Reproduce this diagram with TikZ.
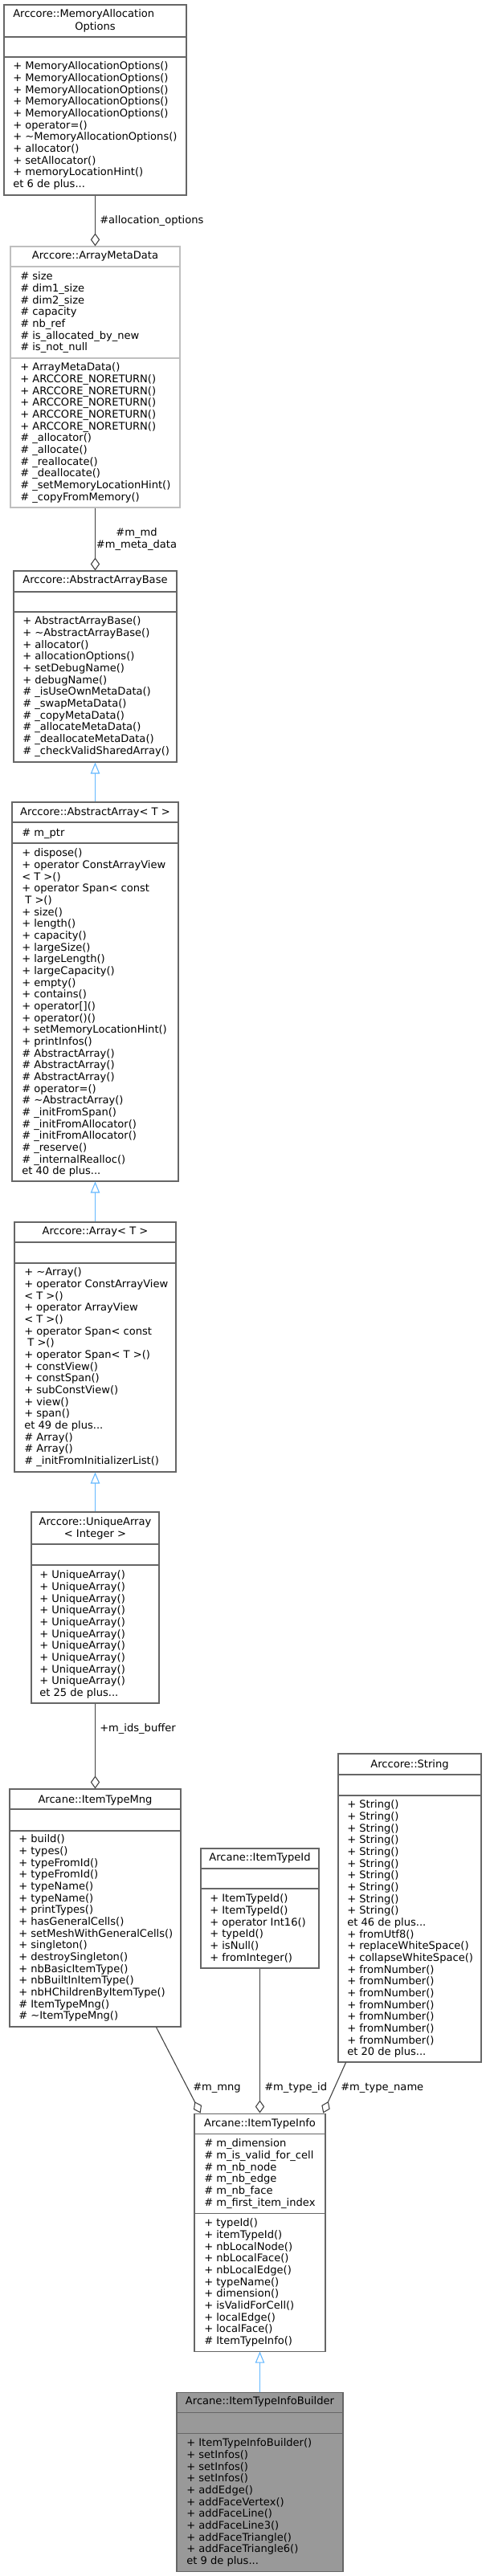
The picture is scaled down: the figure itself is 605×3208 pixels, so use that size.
\documentclass[tikz,border=0pt]{standalone}
\usepackage{fontspec}
\setmainfont{DejaVu Sans}
\usetikzlibrary{arrows.meta,fit,calc}
\definecolor{cborder}{HTML}{666666}
\definecolor{clight}{HTML}{BFBFBF}
\definecolor{cedge}{HTML}{404040}
\definecolor{cinh}{HTML}{63B8FF}
\definecolor{cmain}{HTML}{999999}
\newcommand\fs{\rule{0pt}{8pt}}
\newcommand\memlist[4]{\node[memtext] (#1) at (#2,{#3-6.2}) {\fs #4};}
\newcommand\ttl[4]{\node[ttext] (#1) at (#2,{#3+4.6}) {#4};}
\newcommand\sepl[3][cborder]{\draw[line width=0.8pt, #1] (#2.west |- 0,#3) -- (#2.east |- 0,#3);}
\begin{document}
\begin{tikzpicture}[x=0.75pt,y=-0.75pt,
 every node/.style={font=\fontsize{9.8pt}{11pt}\selectfont, inner sep=0pt},
 cbox/.style={draw=cborder, fill=white, line width=0.8pt, inner sep=0pt},
 memtext/.style={anchor=north west, align=left},
 ttext/.style={anchor=base},
 agg/.style={draw=cedge, line width=0.8pt, -{Diamond[open,length=12pt,width=8.5pt]}},
 inh/.style={draw=cinh, line width=0.8pt, -{Triangle[open,length=10.5pt,width=8.5pt]}},
 lbl/.style={anchor=base west}]
\fill[white] (0,0) rectangle (605,3208);
\useasboundingbox (0,0) rectangle (605,3208);

% MemoryAllocationOptions
\node[cbox, fit={(5,6) (232,243)}] (mao) {};
\sepl{mao}{46}\sepl{mao}{71}
\node[anchor=base west] (mao-t1) at (16,{17+4.6}) {Arccore::MemoryAllocation};
\ttl{mao-t2}{118.5}{33}{Options}
\memlist{mao-m}{16}{82}{+ MemoryAllocationOptions()\\+ MemoryAllocationOptions()\\+ MemoryAllocationOptions()\\+ MemoryAllocationOptions()\\+ MemoryAllocationOptions()\\+ operator=()\\+ \textasciitilde MemoryAllocationOptions()\\+ allocator()\\+ setAllocator()\\+ memoryLocationHint()\\et 6 de plus...}

% ArrayMetaData
\node[cbox, draw=clight, fit={(13,307) (224,632)}] (amd) {};
\sepl[clight]{amd}{332}\sepl[clight]{amd}{446}
\ttl{amd-t}{118.5}{318}{Arccore::ArrayMetaData}
\memlist{amd-a}{25}{344}{\# size\\\# dim1\_size\\\# dim2\_size\\\# capacity\\\# nb\_ref\\\# is\_allocated\_by\_new\\\# is\_not\_null}
\memlist{amd-m}{25}{457}{+ ArrayMetaData()\\+ ARCCORE\_NORETURN()\\+ ARCCORE\_NORETURN()\\+ ARCCORE\_NORETURN()\\+ ARCCORE\_NORETURN()\\+ ARCCORE\_NORETURN()\\\# \_allocator()\\\# \_allocate()\\\# \_reallocate()\\\# \_deallocate()\\\# \_setMemoryLocationHint()\\\# \_copyFromMemory()}

% AbstractArrayBase
\node[cbox, fit={(17,711) (220,949)}] (aab) {};
\sepl{aab}{737}\sepl{aab}{762}
\ttl{aab-t}{118.5}{722}{Arccore::AbstractArrayBase}
\memlist{aab-m}{28}{773}{+ AbstractArrayBase()\\+ \textasciitilde AbstractArrayBase()\\+ allocator()\\+ allocationOptions()\\+ setDebugName()\\+ debugName()\\\# \_isUseOwnMetaData()\\\# \_swapMetaData()\\\# \_copyMetaData()\\\# \_allocateMetaData()\\\# \_deallocateMetaData()\\\# \_checkValidSharedArray()}

% AbstractArray<T>
\node[cbox, fit={(15,999) (222,1471)}] (aa) {};
\sepl{aa}{1024}\sepl{aa}{1050}
\ttl{aa-t}{118.5}{1011}{Arccore::AbstractArray< T >}
\memlist{aa-a}{27}{1037}{\# m\_ptr}
\memlist{aa-m}{27}{1062}{+ dispose()\\+ operator ConstArrayView\\< T >()\\+ operator Span< const\\\ T >()\\+ size()\\+ length()\\+ capacity()\\+ largeSize()\\+ largeLength()\\+ largeCapacity()\\+ empty()\\+ contains()\\+ operator[]()\\+ operator()()\\+ setMemoryLocationHint()\\+ printInfos()\\\# AbstractArray()\\\# AbstractArray()\\\# AbstractArray()\\\# operator=()\\\# \textasciitilde AbstractArray()\\\# \_initFromSpan()\\\# \_initFromAllocator()\\\# \_initFromAllocator()\\\# \_reserve()\\\# \_internalRealloc()\\et 40 de plus...}

% Array<T>
\node[cbox, fit={(18,1522) (219,1833)}] (arr) {};
\sepl{arr}{1547}\sepl{arr}{1573}
\ttl{arr-t}{118.5}{1533}{Arccore::Array< T >}
\memlist{arr-m}{30}{1584}{+ \textasciitilde Array()\\+ operator ConstArrayView\\< T >()\\+ operator ArrayView\\< T >()\\+ operator Span< const\\\ T >()\\+ operator Span< T >()\\+ constView()\\+ constSpan()\\+ subConstView()\\+ view()\\+ span()\\et 49 de plus...\\\# Array()\\\# Array()\\\# \_initFromInitializerList()}

% UniqueArray<Integer>
\node[cbox, fit={(39,1883) (198,2121)}] (ua) {};
\sepl{ua}{1923}\sepl{ua}{1949}
\node[align=center, anchor=north] (ua-t) at (118.5,{1895-6.2}) {\fs Arccore::UniqueArray\\< Integer >};
\memlist{ua-m}{49}{1961}{+ UniqueArray()\\+ UniqueArray()\\+ UniqueArray()\\+ UniqueArray()\\+ UniqueArray()\\+ UniqueArray()\\+ UniqueArray()\\+ UniqueArray()\\+ UniqueArray()\\+ UniqueArray()\\et 25 de plus...}

% ItemTypeMng
\node[cbox, fit={(12,2228) (225,2524)}] (itm) {};
\sepl{itm}{2253}\sepl{itm}{2280}
\ttl{itm-t}{118.5}{2241}{Arcane::ItemTypeMng}
\memlist{itm-m}{23}{2290}{+ build()\\+ types()\\+ typeFromId()\\+ typeFromId()\\+ typeName()\\+ typeName()\\+ printTypes()\\+ hasGeneralCells()\\+ setMeshWithGeneralCells()\\+ singleton()\\+ destroySingleton()\\+ nbBasicItemType()\\+ nbBuiltInItemType()\\+ nbHChildrenByItemType()\\\# ItemTypeMng()\\\# \textasciitilde ItemTypeMng()}

% ItemTypeId
\node[cbox, fit={(250,2302) (397,2451)}] (itid) {};
\sepl{itid}{2327}\sepl{itid}{2352}
\ttl{itid-t}{323.5}{2313}{Arcane::ItemTypeId}
\memlist{itid-m}{261}{2364}{+ ItemTypeId()\\+ ItemTypeId()\\+ operator Int16()\\+ typeId()\\+ isNull()\\+ fromInteger()}

% String
\node[cbox, fit={(421,2184) (599,2568)}] (str) {};
\sepl{str}{2210}\sepl{str}{2236}
\ttl{str-t}{510}{2197}{Arccore::String}
\memlist{str-m}{432}{2247}{+ String()\\+ String()\\+ String()\\+ String()\\+ String()\\+ String()\\+ String()\\+ String()\\+ String()\\+ String()\\et 46 de plus...\\+ fromUtf8()\\+ replaceWhiteSpace()\\+ collapseWhiteSpace()\\+ fromNumber()\\+ fromNumber()\\+ fromNumber()\\+ fromNumber()\\+ fromNumber()\\+ fromNumber()\\+ fromNumber()\\et 20 de plus...}

% ItemTypeInfo
\node[cbox, fit={(242,2632) (405,2928)}] (iti) {};
\sepl{iti}{2657}\sepl{iti}{2756}
\ttl{iti-t}{323.5}{2644}{Arcane::ItemTypeInfo}
\memlist{iti-a}{254}{2669}{\# m\_dimension\\\# m\_is\_valid\_for\_cell\\\# m\_nb\_node\\\# m\_nb\_edge\\\# m\_nb\_face\\\# m\_first\_item\_index}
\memlist{iti-m}{254}{2768}{+ typeId()\\+ itemTypeId()\\+ nbLocalNode()\\+ nbLocalFace()\\+ nbLocalEdge()\\+ typeName()\\+ dimension()\\+ isValidForCell()\\+ localEdge()\\+ localFace()\\\# ItemTypeInfo()}

% ItemTypeInfoBuilder
\node[cbox, fill=cmain, fit={(220,2979) (427,3202)}] (itib) {};
\sepl{itib}{3004}\sepl{itib}{3030}
\ttl{itib-t}{323.5}{2990}{Arcane::ItemTypeInfoBuilder}
\memlist{itib-m}{232}{3042}{+ ItemTypeInfoBuilder()\\+ setInfos()\\+ setInfos()\\+ setInfos()\\+ addEdge()\\+ addFaceVertex()\\+ addFaceLine()\\+ addFaceLine3()\\+ addFaceTriangle()\\+ addFaceTriangle6()\\et 9 de plus...}

% connectors
\draw[agg] (mao.south) -- (amd.north);
\draw[agg] (amd.south) -- (aab.north);
\draw[inh] (aa.north) -- (aab.south);
\draw[inh] (arr.north) -- (aa.south);
\draw[inh] (ua.north) -- (arr.south);
\draw[agg] (ua.south) -- (itm.north);
\draw[agg] ($(itm.south west)!0.855!(itm.south east)$) -- ($(iti.north west)!0.05!(iti.north east)$);
\draw[agg] (itid.south) -- (iti.north);
\draw[agg] ($(str.south west)!0.056!(str.south east)$) -- ($(iti.north west)!0.98!(iti.north east)$);
\draw[inh] (itib.north) -- (iti.south);

% labels
\node[lbl] (l1) at (124,278.6) {\#allocation\_options};
\node[align=center, anchor=north] (l2) at (170,{663-6.2}) {\fs\#m\_md\\\#m\_meta\_data};
\node[lbl] (l3) at (124,2156.6) {+m\_ids\_buffer};
\node[lbl] (l4) at (240,2603.6) {\#m\_mng};
\node[lbl] (l5) at (329,2603.6) {\#m\_type\_id};
\node[lbl] (l6) at (424,2603.6) {\#m\_type\_name};
\end{tikzpicture}
\end{document}
